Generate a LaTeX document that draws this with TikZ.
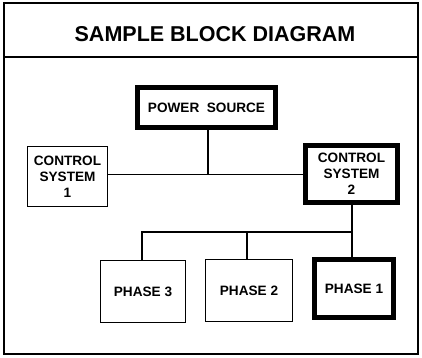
\documentclass[tikz,border=0pt]{standalone}
\usepackage{fontspec}
\setmainfont{Liberation Sans}
\begin{document}
\begin{tikzpicture}[x=1pt,y=-1pt,
  blk/.style={draw,line width=1.4pt,align=center,font=\bfseries\fontsize{13.6}{16}\selectfont,inner sep=0pt},
  heavy/.style={blk,line width=4.8pt},
  wire/.style={line width=1.1pt}]
\useasboundingbox (0,0) rectangle (422,357);
% outer frame and title bar
\draw[line width=1.8pt] (4,3) rectangle (418,354);
\draw[line width=1.5pt] (4,57) -- (418,57);
\node[font=\bfseries\fontsize{21.5}{24}\selectfont] (title) at (215,34) {SAMPLE BLOCK DIAGRAM};
% blocks
\node[heavy,minimum width=138pt,minimum height=40pt] (pwr) at (206.5,107.5) {POWER\ \ SOURCE};
\node[blk,minimum width=79.5pt,minimum height=59.5pt] (cs1) at (67.5,176.5) {CONTROL\\SYSTEM\\1};
\node[heavy,minimum width=92pt,minimum height=57pt] (cs2) at (351.5,174) {CONTROL\\SYSTEM\\2};
\node[blk,minimum width=84.5pt,minimum height=61.5pt] (p3) at (143,291.5) {PHASE 3};
\node[blk,minimum width=86.5pt,minimum height=61.5pt] (p2) at (249,290.5) {PHASE 2};
\node[heavy,minimum width=79pt,minimum height=58pt] (p1) at (354,288.5) {PHASE 1};
% connectors
\coordinate (j1) at (208,174.5);
\coordinate (j2) at (352,232);
\draw[wire] (pwr.south -| j1) -- (j1);
\draw[wire] (cs1.east |- j1) -- (cs2.west |- j1);
\draw[wire] (cs2.south -| j2) -- (j2);
\draw[wire] (p1.north -| j2) -- (j2);
\draw[wire] (j2) -- (142,232) coordinate (j3) -- (p3.north -| j3);
\draw[wire] (j2 -| 247,0) coordinate (j4) -- (p2.north -| j4);
\end{tikzpicture}
\end{document}
